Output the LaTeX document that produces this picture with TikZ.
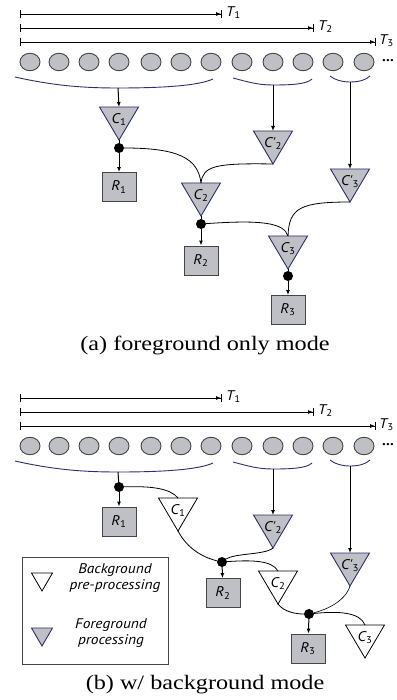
\documentclass[tikz,border=0pt]{standalone}
\usepackage{fontspec}
\setmainfont{Liberation Serif}[FakeStretch=1.18]
\newfontfamily\lblfont{PT Sans}[FakeStretch=1.1]
\usetikzlibrary{arrows.meta,shapes.geometric}
\definecolor{navy}{HTML}{2B2F6B}
\definecolor{grayfill}{HTML}{BFC0C5}
\definecolor{edge}{HTML}{454545}
\tikzset{
 lbl/.style={font=\lblfont\fontsize{14}{16}\selectfont\itshape, inner sep=0pt},
 frame/.style={ellipse, draw=edge, fill=grayfill, minimum width=20pt, minimum height=17.5pt, inner sep=0pt, line width=0.9pt},
 tline/.style={line width=0.9pt, {Bar[width=8pt]}-{Latex[length=5pt,width=4pt]Bar[width=8pt]}},
 brace/.style={navy, line width=0.9pt},
 feed/.style={line width=1pt, -{Latex[length=5pt,width=4pt]}},
 link/.style={line width=0.8pt},
 dot/.style={circle, fill=black, minimum size=10pt, inner sep=0pt},
 result/.style={rectangle, draw=edge, fill=grayfill, minimum width=34pt, minimum height=29pt, inner sep=0pt, line width=0.9pt, font=\lblfont\fontsize{14}{16}\selectfont\itshape},
 fg/.style={draw=navy, fill=grayfill, line width=0.9pt, line join=miter},
 bg/.style={draw=black, fill=white, line width=0.8pt, line join=miter},
 caption/.style={font=\fontsize{20.5}{24}\selectfont, inner sep=0pt},
 legendbox/.style={draw=edge, line width=0.8pt, fill=white, inner sep=0pt},
}
\newcommand\tri[5]{% name, x, ytop, style, label
  \draw[#4] (#2-19.5,#3) -- (#2+19.5,#3) -- (#2,#3+33) -- cycle;
  \coordinate (#1t) at (#2,#3);
  \coordinate (#1a) at (#2,#3+33);
  \node[lbl] (#1) at (#2,#3+12.5) {#5};
}
\newcommand\sub[2]{#1\textsubscript{\upshape #2}}
\newcommand\pr[2]{#1'\textsubscript{\upshape #2}}
\newcommand\toppart[1]{%
  \coordinate (#1s1) at (20,14);  \coordinate (#1e1) at (222,14);
  \coordinate (#1s2) at (20,28);  \coordinate (#1e2) at (314,28);
  \coordinate (#1s3) at (20,42);  \coordinate (#1e3) at (376,42);
  \draw[tline] (#1s1) -- (#1e1);
  \draw[tline] (#1s2) -- (#1e2);
  \draw[tline] (#1s3) -- (#1e3);
  \node[lbl, anchor=mid west] (#1T1) at (226,14.5) {\sub{T}{1}};
  \node[lbl, anchor=mid west] (#1T2) at (318,28.5) {\sub{T}{2}};
  \node[lbl, anchor=mid west] (#1T3) at (379,42.5) {\sub{T}{3}};
  \foreach \i/\xx in {1/30,2/59,3/89,4/119,5/151,6/181,7/211,8/242,9/273,10/303,11/333,12/364}
    \node[frame] (#1c\i) at (\xx,62) {};
  \node[lbl, font=\lblfont\fontsize{14}{16}\selectfont\bfseries] (#1more) at (388,61) {...};
  \coordinate (#1b1) at (118,88);
  \coordinate (#1b2) at (273,85);
  \coordinate (#1b3) at (350,82);
  \draw[brace] (15,77) .. controls (55,86) and (85,88) .. (#1b1) .. controls (160,88) and (198,86) .. (213,79);
  \draw[brace] (233,78) .. controls (248,82) and (258,85) .. (#1b2) .. controls (293,85) and (307,84) .. (312,79);
  \draw[brace] (330,76) .. controls (335,80) and (342,82) .. (#1b3) .. controls (359,82) and (366,80) .. (370,76);
}
\begin{document}
\begin{tikzpicture}[x=1pt,y=-1pt]
\useasboundingbox (0,0) rectangle (396,700);
% ---------------- (a) ----------------
\toppart{a}
\tri{aC1}{119}{107}{fg}{\sub{C}{1}}
\tri{aCp2}{273}{131}{fg}{\pr{C}{2}}
\tri{aCp3}{350}{169}{fg}{\pr{C}{3}}
\tri{aC2}{201}{183}{fg}{\sub{C}{2}}
\tri{aC3}{288}{236}{fg}{\sub{C}{3}}
\node[dot] (ad1) at (119,148) {};
\node[dot] (ad2) at (201,224) {};
\node[dot] (ad3) at (288,276) {};
\node[result] (aR1) at (119,187) {\sub{R}{1}};
\node[result] (aR2) at (201,260.5) {\sub{R}{2}};
\node[result] (aR3) at (288,310) {\sub{R}{3}};
\draw[feed] (ab1) -- (aC1t);
\draw[feed] (ab2) -- (aCp2t);
\draw[feed] (ab3) -- (aCp3t);
\draw[link] (aC1a) -- (ad1);
\draw[link] (aC2a) -- (ad2);
\draw[link] (aC3a) -- (ad3);
\draw[feed] (ad1) -- (aR1);
\draw[feed] (ad2) -- (aR2);
\draw[feed] (ad3) -- (aR3);
\draw[link] (ad1) .. controls (178,148) and (198,158) .. (aC2t);
\draw[link] (aCp2a) .. controls (215,163) and (203,166) .. (aC2t);
\draw[link] (ad2) .. controls (258,220) and (284,222) .. (aC3t);
\draw[link] (aCp3a) .. controls (300,202) and (289,208) .. (aC3t);
\node[caption] (capa) at (205,345) {(a) foreground only mode};
% ---------------- (b) ----------------
\begin{scope}[yshift=-384pt]
\toppart{b}
\end{scope}
\tri{bC1}{178}{498}{bg}{\sub{C}{1}}
\tri{bCp2}{273}{515}{fg}{\pr{C}{2}}
\tri{bCp3}{350}{553}{fg}{\pr{C}{3}}
\tri{bC2}{278}{571}{bg}{\sub{C}{2}}
\tri{bC3}{365}{625}{bg}{\sub{C}{3}}
\node[dot] (bd1) at (119,487) {};
\node[dot] (bd2) at (222,562) {};
\node[dot] (bd3) at (309,614) {};
\node[result] (bR1) at (119,521.5) {\sub{R}{1}};
\node[result] (bR2) at (223,593) {\sub{R}{2}};
\node[result] (bR3) at (308,648.5) {\sub{R}{3}};
\draw[link, line width=1pt] (bb1) -- (bd1);
\draw[feed] (bb2) -- (bCp2t);
\draw[feed] (bb3) -- (bCp3t);
\draw[feed] (bd1) -- (bR1);
\draw[feed] (bd2) -- (bR2);
\draw[feed] (bd3) -- (bR3);
\draw[link] (bd1) .. controls (150,486) and (170,488) .. (bC1t);
\draw[link] (bC1a) .. controls (188,550) and (205,558) .. (bd2);
\draw[link] (bCp2a) .. controls (265,555) and (235,553) .. (bd2);
\draw[link] (bd2) .. controls (250,560) and (272,560) .. (bC2t);
\draw[link] (bC2a) .. controls (284,612) and (296,614) .. (bd3);
\draw[link, line width=0.6pt] (bCp3a) .. controls (345,602) and (325,610) .. (bd3);
\draw[link] (bd3) .. controls (338,611) and (360,612) .. (bC3t);
% legend
\node[legendbox, minimum width=146pt, minimum height=107pt] (legend) at (95,610.5) {};
\draw[bg] (31.5,573) -- (52.5,573) -- (42,591) -- cycle;
\draw[fg] (31.5,628) -- (52.5,628) -- (42,646) -- cycle;
\node[lbl, align=center] (bgtext) at (115,578.5) {Background\\pre-processing};
\node[lbl, align=center] (fgtext) at (111,633) {Foreground\\processing};
\node[caption] (capb) at (205,685) {(b) w/ background mode};
\end{tikzpicture}
\end{document}
